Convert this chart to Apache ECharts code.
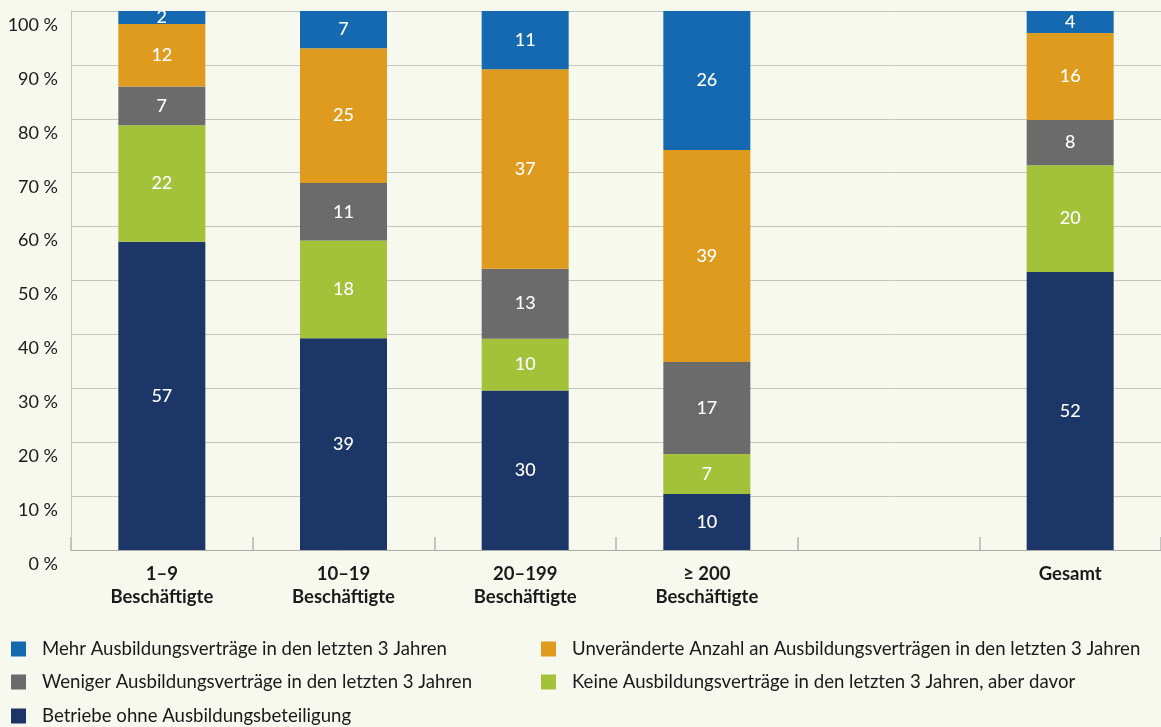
<!DOCTYPE html>
<html>
<head>
<meta charset="utf-8">
<style>
  html, body { margin: 0; padding: 0; background: #f7f8ee; }
  #chart { width: 1161px; height: 727px; }
</style>
<script src="https://cdn.jsdelivr.net/npm/echarts@6/dist/echarts.min.js"></script>
</head>
<body>
<div id="chart"></div>
<script>
const categories = ['1–9\nBeschäftigte', '10–19\nBeschäftigte', '20–199\nBeschäftigte', '≥ 200\nBeschäftigte', '', 'Gesamt'];
const yTicks = { min: 0, max: 100, interval: 10 };

const seriesNames = [
  'Betriebe ohne Ausbildungsbeteiligung',
  'Keine Ausbildungsverträge in den letzten 3 Jahren, aber davor',
  'Weniger Ausbildungsverträge in den letzten 3 Jahren',
  'Unveränderte Anzahl an Ausbildungsverträgen in den letzten 3 Jahren',
  'Mehr Ausbildungsverträge in den letzten 3 Jahren'
];
const betriebeOhne   = [57.2, 39.3, 29.6, 10.4, null, 51.6];
const keineAber      = [21.6, 18.1,  9.6,  7.4, null, 19.8];
const weniger        = [ 7.2, 10.7, 13.0, 17.1, null,  8.4];
const unveraendert   = [11.6, 25.0, 37.0, 39.3, null, 16.1];
const mehr           = [ 2.4,  6.9, 10.8, 25.8, null,  4.1];

const seriesData = [betriebeOhne, keineAber, weniger, unveraendert, mehr];
const colors = ['#1c3667', '#a3c139', '#6b6b6b', '#df9b1e', '#1569b0'];

const FONT = 'Lato, "Open Sans", sans-serif';
const TXT = '#1a1a1a';

const chart = echarts.init(document.getElementById('chart'), null, { renderer: 'canvas' });

const series = seriesNames.map((name, i) => ({
  name: name,
  type: 'bar',
  stack: 'total',
  barWidth: 87,
  data: seriesData[i],
  itemStyle: { color: colors[i] },
  label: {
    show: true,
    position: 'inside',
    color: '#ffffff',
    fontFamily: FONT,
    fontSize: 18,
    fontWeight: 500,
    formatter: p => (p.value == null ? '' : String(Math.round(p.value)))
  },
  emphasis: { disabled: true }
}));

// legend layout: [seriesIndex, left, rowCenterY]
const legendSlots = [
  [4, 11, 649], [2, 11, 682], [0, 11, 716],
  [3, 541, 649], [1, 541, 682]
];
const legends = legendSlots.map(([si, left, cy]) => ({
  orient: 'horizontal', left: left, top: cy - 11, padding: 0,
  itemWidth: 15, itemHeight: 15, icon: 'rect',
  textStyle: { color: TXT, fontFamily: FONT, fontSize: 18.6, lineHeight: 22, padding: [0, 0, 0, 11] },
  data: [seriesNames[si]]
}));

chart.setOption({
  backgroundColor: '#f7f8ee',
  animation: false,
  grid: { left: 71, right: 0, top: 11, bottom: 177, containLabel: false },
  legend: legends,
  xAxis: {
    type: 'category',
    data: categories,
    axisLine: { show: true, lineStyle: { color: '#a9aaa4', width: 1 } },
    axisTick: { show: true, inside: true, length: 13, lineStyle: { color: '#c4c5bd', width: 2 } },
    axisLabel: {
      color: TXT, fontFamily: FONT, fontSize: 18.5, fontWeight: 'bold',
      lineHeight: 23, margin: 13, interval: 0
    }
  },
  yAxis: {
    type: 'value',
    min: yTicks.min, max: yTicks.max, interval: yTicks.interval,
    axisLine: { show: true, lineStyle: { color: '#c4c5bd', width: 1 } },
    axisTick: { show: false },
    splitLine: { show: true, lineStyle: { color: '#c4c5bd', width: 1 } },
    axisLabel: {
      color: TXT, fontFamily: FONT, fontSize: 18,
      verticalAlign: 'top', lineHeight: 28, margin: 13,
      formatter: '{value} %'
    }
  },
  series: series
});
</script>
</body>
</html>
